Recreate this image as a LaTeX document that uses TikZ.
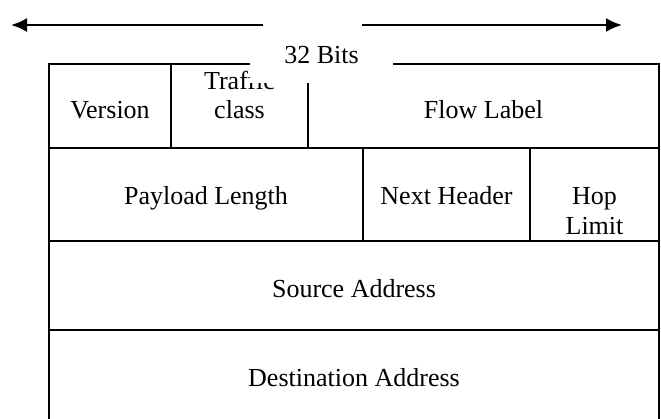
\documentclass[tikz,border=0pt]{standalone}
\usepackage{fontspec}
\setmainfont{Liberation Serif}
\usetikzlibrary{arrows.meta}

\begin{document}
\begin{tikzpicture}[x=1pt, y=-1pt,
  field/.style={anchor=base, inner sep=0pt, font=\fontsize{26}{29}\selectfont},
  border/.style={line width=2pt},
  span/.style={line width=2.3pt, -{Latex[length=16pt,width=14pt]}}]
\useasboundingbox (0,0) rectangle (661,418);
\clip (0,0) rectangle (661,418);

% frame corners
\coordinate (NW) at (49,64);
\coordinate (NE) at (659,64);
\coordinate (SW) at (49,430);
\coordinate (SE) at (659,430);
\draw[border] (SW) -- (NW) -- (NE) -- (SE);

% row lines
\draw[border] (49,148) -- (659,148);
\draw[border] (49,241) -- (659,241);
\draw[border] (49,330) -- (659,330);

% column lines
\draw[border] (171,64) -- (171,148);
\draw[border] (308,64) -- (308,148);
\draw[border] (363,148) -- (363,241);
\draw[border] (530,148) -- (530,241);

% field names
\node[field] (version) at (110,118) {Version};
\node[field] (traffic) at (239.5,89) {Traffic};
\node[field] (class) at (239.5,118) {class};
\node[field] (flow) at (483.5,118) {Flow Label};
\node[field] (payload) at (206,204) {Payload Length};
\node[field] (next) at (446.5,204) {Next Header};
\node[field] (hop) at (594.5,204) {Hop};
\node[field] (limit) at (594.5,234) {Limit};
\node[field] (source) at (354,297) {Source Address};
\node[field] (dest) at (354,386) {Destination Address};

% width label over the frame
\node[field, fill=white, text height=23pt, text depth=20pt,
  minimum width=143pt] (bits) at (321.5,63) {32 Bits};
\coordinate (lfrom) at (263,25);
\coordinate (lto) at (11,25);
\coordinate (rfrom) at (362,25);
\coordinate (rto) at (622,25);
\draw[span] (lfrom) -- (lto);
\draw[span] (rfrom) -- (rto);
\end{tikzpicture}
\end{document}
